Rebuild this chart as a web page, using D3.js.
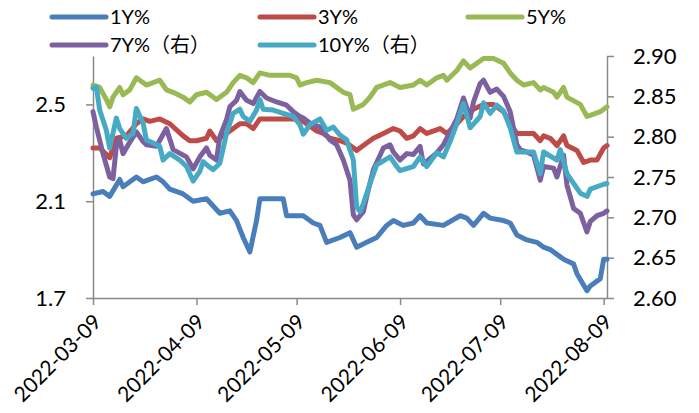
<!DOCTYPE html>
<html>
<head>
<meta charset="utf-8">
<script src="https://cdn.jsdelivr.net/npm/d3@7"></script>
<style>
  body { margin: 0; background: #fff; }
  svg text { font-family: Lato, "Noto Sans CJK SC", sans-serif; fill: #000; }
</style>
</head>
<body>
<div id="chart"></div>
<script>
const W = 699;
const H = 413;
const plot = { left: 93, right: 607, top: 56, bottom: 298 };

// Axis setup
const dateRange = ["2022-03-09", "2022-08-10"];
const xTicks = ["2022-03-09", "2022-04-09", "2022-05-09", "2022-06-09", "2022-07-09", "2022-08-09"];
const leftDomain = [1.7, 2.7];
const leftTicks = [1.7, 2.1, 2.5];
const rightDomain = [2.6, 2.9];
const rightTicks = [2.60, 2.65, 2.70, 2.75, 2.80, 2.85, 2.90];

const seriesNames = ["1Y%", "3Y%", "5Y%", "7Y%（右）", "10Y%（右）"];
const seriesColors = ["#4A7EBB", "#BE4B48", "#98B954", "#7D60A0", "#46AAC5"];

// Values (left axis)
const y1 = [
  ["2022-03-09", 2.13], ["2022-03-12", 2.14], ["2022-03-14", 2.12], ["2022-03-17", 2.19],
  ["2022-03-18", 2.16], ["2022-03-22", 2.20], ["2022-03-24", 2.18], ["2022-03-26", 2.19],
  ["2022-03-28", 2.20], ["2022-03-30", 2.18], ["2022-04-01", 2.15], ["2022-04-05", 2.13],
  ["2022-04-08", 2.10], ["2022-04-12", 2.11], ["2022-04-14", 2.08], ["2022-04-16", 2.05],
  ["2022-04-19", 2.06], ["2022-04-21", 2.02], ["2022-04-23", 1.95], ["2022-04-25", 1.89],
  ["2022-04-27", 2.02], ["2022-04-28", 2.11], ["2022-05-01", 2.11], ["2022-05-05", 2.11],
  ["2022-05-06", 2.04], ["2022-05-10", 2.04], ["2022-05-11", 2.04], ["2022-05-14", 2.01],
  ["2022-05-16", 2.00], ["2022-05-18", 1.93], ["2022-05-22", 1.95], ["2022-05-25", 1.97],
  ["2022-05-27", 1.91], ["2022-05-30", 1.93], ["2022-06-02", 1.95], ["2022-06-05", 2.00],
  ["2022-06-07", 2.02], ["2022-06-10", 2.00], ["2022-06-13", 2.01], ["2022-06-15", 2.04],
  ["2022-06-17", 2.01], ["2022-06-22", 2.00], ["2022-06-27", 2.04], ["2022-06-29", 2.03],
  ["2022-07-01", 2.00], ["2022-07-04", 2.05], ["2022-07-06", 2.03], ["2022-07-10", 2.02],
  ["2022-07-12", 2.01], ["2022-07-14", 1.96], ["2022-07-17", 1.94], ["2022-07-20", 1.93],
  ["2022-07-22", 1.91], ["2022-07-24", 1.90], ["2022-07-27", 1.87], ["2022-07-28", 1.86],
  ["2022-07-31", 1.84], ["2022-08-01", 1.80], ["2022-08-04", 1.73], ["2022-08-05", 1.75],
  ["2022-08-08", 1.78], ["2022-08-09", 1.86], ["2022-08-10", 1.86]
];

const y3 = [
  ["2022-03-09", 2.32], ["2022-03-11", 2.32], ["2022-03-14", 2.28], ["2022-03-16", 2.36],
  ["2022-03-19", 2.37], ["2022-03-22", 2.42], ["2022-03-24", 2.44], ["2022-03-26", 2.43],
  ["2022-03-29", 2.44], ["2022-04-01", 2.42], ["2022-04-05", 2.37], ["2022-04-07", 2.35],
  ["2022-04-09", 2.35], ["2022-04-12", 2.36], ["2022-04-13", 2.39], ["2022-04-15", 2.35],
  ["2022-04-17", 2.37], ["2022-04-19", 2.39], ["2022-04-22", 2.42], ["2022-04-24", 2.42],
  ["2022-04-26", 2.40], ["2022-04-28", 2.44], ["2022-05-02", 2.44], ["2022-05-08", 2.44],
  ["2022-05-10", 2.44], ["2022-05-15", 2.39], ["2022-05-17", 2.38], ["2022-05-19", 2.36],
  ["2022-05-22", 2.35], ["2022-05-24", 2.34], ["2022-05-27", 2.31], ["2022-05-29", 2.33],
  ["2022-06-01", 2.36], ["2022-06-04", 2.38], ["2022-06-07", 2.40], ["2022-06-09", 2.39],
  ["2022-06-11", 2.36], ["2022-06-13", 2.37], ["2022-06-15", 2.40], ["2022-06-17", 2.38],
  ["2022-06-21", 2.40], ["2022-06-23", 2.38], ["2022-06-26", 2.42], ["2022-06-28", 2.45],
  ["2022-07-01", 2.48], ["2022-07-04", 2.50], ["2022-07-07", 2.50], ["2022-07-10", 2.47],
  ["2022-07-13", 2.40], ["2022-07-14", 2.38], ["2022-07-19", 2.38], ["2022-07-21", 2.35],
  ["2022-07-22", 2.37], ["2022-07-24", 2.36], ["2022-07-26", 2.33], ["2022-07-28", 2.37],
  ["2022-07-29", 2.33], ["2022-08-01", 2.31], ["2022-08-03", 2.26], ["2022-08-05", 2.27],
  ["2022-08-07", 2.27], ["2022-08-09", 2.32], ["2022-08-10", 2.33]
];

const y5 = [
  ["2022-03-09", 2.58], ["2022-03-11", 2.57], ["2022-03-13", 2.52], ["2022-03-14", 2.49],
  ["2022-03-15", 2.53], ["2022-03-17", 2.57], ["2022-03-18", 2.54], ["2022-03-20", 2.56],
  ["2022-03-22", 2.61], ["2022-03-25", 2.58], ["2022-03-27", 2.59], ["2022-03-29", 2.60],
  ["2022-03-30", 2.58], ["2022-03-31", 2.56], ["2022-04-02", 2.55], ["2022-04-05", 2.53],
  ["2022-04-07", 2.51], ["2022-04-09", 2.54], ["2022-04-12", 2.55], ["2022-04-15", 2.52],
  ["2022-04-18", 2.55], ["2022-04-20", 2.59], ["2022-04-22", 2.62], ["2022-04-24", 2.61],
  ["2022-04-26", 2.59], ["2022-04-28", 2.63], ["2022-05-01", 2.62], ["2022-05-05", 2.62],
  ["2022-05-07", 2.62], ["2022-05-09", 2.61], ["2022-05-10", 2.58], ["2022-05-12", 2.59],
  ["2022-05-15", 2.60], ["2022-05-19", 2.59], ["2022-05-23", 2.55], ["2022-05-25", 2.54],
  ["2022-05-26", 2.48], ["2022-05-29", 2.50], ["2022-05-31", 2.53], ["2022-06-02", 2.57],
  ["2022-06-06", 2.59], ["2022-06-09", 2.57], ["2022-06-13", 2.58], ["2022-06-15", 2.60],
  ["2022-06-17", 2.58], ["2022-06-20", 2.61], ["2022-06-22", 2.62], ["2022-06-23", 2.60],
  ["2022-06-26", 2.64], ["2022-06-28", 2.68], ["2022-06-30", 2.65], ["2022-07-04", 2.69],
  ["2022-07-07", 2.69], ["2022-07-10", 2.67], ["2022-07-12", 2.63], ["2022-07-14", 2.60],
  ["2022-07-16", 2.58], ["2022-07-19", 2.59], ["2022-07-21", 2.56], ["2022-07-22", 2.57],
  ["2022-07-25", 2.55], ["2022-07-26", 2.53], ["2022-07-28", 2.57], ["2022-07-29", 2.53],
  ["2022-08-02", 2.50], ["2022-08-04", 2.45], ["2022-08-06", 2.46], ["2022-08-08", 2.47],
  ["2022-08-10", 2.49]
];

// Values (right axis)
const y7 = [
  ["2022-03-09", 2.831], ["2022-03-10", 2.812], ["2022-03-12", 2.779], ["2022-03-14", 2.750],
  ["2022-03-15", 2.748], ["2022-03-16", 2.788], ["2022-03-17", 2.796], ["2022-03-18", 2.779],
  ["2022-03-20", 2.793], ["2022-03-22", 2.806], ["2022-03-24", 2.794], ["2022-03-25", 2.790],
  ["2022-03-28", 2.788], ["2022-03-31", 2.810], ["2022-04-02", 2.784], ["2022-04-06", 2.775],
  ["2022-04-08", 2.760], ["2022-04-10", 2.775], ["2022-04-12", 2.786], ["2022-04-13", 2.777],
  ["2022-04-15", 2.771], ["2022-04-16", 2.800], ["2022-04-18", 2.821], ["2022-04-19", 2.837],
  ["2022-04-21", 2.845], ["2022-04-22", 2.856], ["2022-04-24", 2.845], ["2022-04-26", 2.841],
  ["2022-04-28", 2.856], ["2022-04-30", 2.848], ["2022-05-03", 2.843], ["2022-05-06", 2.839],
  ["2022-05-08", 2.831], ["2022-05-10", 2.825], ["2022-05-11", 2.823], ["2022-05-13", 2.817],
  ["2022-05-16", 2.812], ["2022-05-19", 2.796], ["2022-05-21", 2.790], ["2022-05-23", 2.771],
  ["2022-05-25", 2.746], ["2022-05-26", 2.703], ["2022-05-27", 2.697], ["2022-05-29", 2.707],
  ["2022-05-30", 2.726], ["2022-06-01", 2.759], ["2022-06-04", 2.786], ["2022-06-06", 2.790],
  ["2022-06-07", 2.781], ["2022-06-09", 2.771], ["2022-06-11", 2.779], ["2022-06-13", 2.778],
  ["2022-06-15", 2.788], ["2022-06-16", 2.766], ["2022-06-20", 2.780], ["2022-06-22", 2.790],
  ["2022-06-24", 2.806], ["2022-06-26", 2.822], ["2022-06-28", 2.848], ["2022-06-30", 2.823],
  ["2022-07-01", 2.843], ["2022-07-03", 2.866], ["2022-07-04", 2.870], ["2022-07-06", 2.855],
  ["2022-07-08", 2.859], ["2022-07-10", 2.850], ["2022-07-12", 2.831], ["2022-07-14", 2.790],
  ["2022-07-15", 2.784], ["2022-07-17", 2.781], ["2022-07-19", 2.777], ["2022-07-21", 2.746],
  ["2022-07-22", 2.763], ["2022-07-25", 2.761], ["2022-07-26", 2.750], ["2022-07-28", 2.777],
  ["2022-07-29", 2.740], ["2022-07-31", 2.711], ["2022-08-02", 2.705], ["2022-08-04", 2.682],
  ["2022-08-05", 2.695], ["2022-08-07", 2.702], ["2022-08-09", 2.705], ["2022-08-10", 2.708]
];

const y10 = [
  ["2022-03-09", 2.860], ["2022-03-10", 2.862], ["2022-03-11", 2.833], ["2022-03-13", 2.808],
  ["2022-03-14", 2.786], ["2022-03-16", 2.823], ["2022-03-17", 2.810], ["2022-03-19", 2.798],
  ["2022-03-21", 2.804], ["2022-03-22", 2.835], ["2022-03-24", 2.817], ["2022-03-25", 2.796],
  ["2022-03-27", 2.792], ["2022-03-29", 2.788], ["2022-03-30", 2.771], ["2022-04-01", 2.779],
  ["2022-04-04", 2.771], ["2022-04-06", 2.763], ["2022-04-08", 2.745], ["2022-04-10", 2.757],
  ["2022-04-11", 2.769], ["2022-04-13", 2.762], ["2022-04-14", 2.759], ["2022-04-16", 2.767],
  ["2022-04-18", 2.804], ["2022-04-20", 2.829], ["2022-04-22", 2.834], ["2022-04-23", 2.825],
  ["2022-04-25", 2.819], ["2022-04-27", 2.833], ["2022-04-28", 2.846], ["2022-04-29", 2.834],
  ["2022-05-02", 2.833], ["2022-05-05", 2.829], ["2022-05-08", 2.825], ["2022-05-10", 2.815],
  ["2022-05-11", 2.803], ["2022-05-13", 2.815], ["2022-05-16", 2.822], ["2022-05-18", 2.808],
  ["2022-05-20", 2.812], ["2022-05-22", 2.802], ["2022-05-24", 2.796], ["2022-05-26", 2.771],
  ["2022-05-27", 2.713], ["2022-05-28", 2.707], ["2022-05-29", 2.717], ["2022-05-31", 2.742],
  ["2022-06-02", 2.765], ["2022-06-06", 2.775], ["2022-06-08", 2.763], ["2022-06-09", 2.758],
  ["2022-06-13", 2.763], ["2022-06-15", 2.775], ["2022-06-17", 2.763], ["2022-06-20", 2.780],
  ["2022-06-22", 2.775], ["2022-06-24", 2.794], ["2022-06-26", 2.816], ["2022-06-28", 2.841],
  ["2022-06-30", 2.811], ["2022-07-03", 2.825], ["2022-07-04", 2.842], ["2022-07-06", 2.829],
  ["2022-07-08", 2.839], ["2022-07-10", 2.832], ["2022-07-12", 2.811], ["2022-07-14", 2.781],
  ["2022-07-19", 2.781], ["2022-07-21", 2.754], ["2022-07-22", 2.781], ["2022-07-26", 2.771],
  ["2022-07-27", 2.784], ["2022-07-29", 2.754], ["2022-08-02", 2.730], ["2022-08-04", 2.726],
  ["2022-08-05", 2.735], ["2022-08-09", 2.741], ["2022-08-10", 2.742]
];

const seriesData = [y1, y3, y5, y7, y10];
const seriesAxis = ["left", "left", "left", "right", "right"];

const parseDate = d3.timeParse("%Y-%m-%d");
const formatDate = d3.timeFormat("%Y-%m-%d");

const svg = d3.select("#chart")
  .append("svg")
  .attr("width", W)
  .attr("height", H)
  .style("background", "#fff");

// Scales
const x = d3.scaleTime()
  .domain(dateRange.map(parseDate))
  .range([plot.left, plot.right]);

const yLeft = d3.scaleLinear().domain(leftDomain).range([plot.bottom, plot.top]);
const yRight = d3.scaleLinear().domain(rightDomain).range([plot.bottom, plot.top]);

const axisColor = "#898989";

function styleAxis(g, fontSize) {
  g.select(".domain").attr("stroke", axisColor).attr("stroke-width", 1.5);
  g.selectAll(".tick line").attr("stroke", axisColor).attr("stroke-width", 1.5);
  g.selectAll(".tick text")
    .style("font-size", fontSize + "px")
    .attr("fill", "#000");
}

// Left axis
svg.append("g")
  .attr("transform", `translate(${plot.left},0)`)
  .call(d3.axisLeft(yLeft)
    .tickValues(leftTicks)
    .tickFormat(d3.format(".1f"))
    .tickSize(7)
    .tickSizeOuter(0)
    .tickPadding(20))
  .call(g => styleAxis(g, 22));

// Right axis
svg.append("g")
  .attr("transform", `translate(${plot.right},0)`)
  .call(d3.axisRight(yRight)
    .tickValues(rightTicks)
    .tickFormat(d3.format(".2f"))
    .tickSize(7)
    .tickSizeOuter(0)
    .tickPadding(19))
  .call(g => styleAxis(g, 22));

// Bottom axis
const xAxisG = svg.append("g")
  .attr("transform", `translate(0,${plot.bottom})`)
  .call(d3.axisBottom(x)
    .tickValues(xTicks.map(parseDate))
    .tickFormat(formatDate)
    .tickSize(7)
    .tickSizeOuter(0))
  .call(g => styleAxis(g, 21));

xAxisG.selectAll(".tick text")
  .attr("text-anchor", "end")
  .attr("x", 0)
  .attr("y", 0)
  .attr("dy", "0.35em")
  .attr("transform", "translate(4,20) rotate(-45)");

// Lines
seriesData.forEach((rows, i) => {
  const yScale = seriesAxis[i] === "left" ? yLeft : yRight;
  const line = d3.line()
    .x(d => x(parseDate(d[0])))
    .y(d => yScale(d[1]));
  svg.append("path")
    .datum(rows)
    .attr("d", line)
    .attr("fill", "none")
    .attr("stroke", seriesColors[i])
    .attr("stroke-width", 5)
    .attr("stroke-linejoin", "round")
    .attr("stroke-linecap", "round");
});

// Legend
const legend = svg.append("g");
seriesNames.forEach((name, i) => {
  const col = i % 3;
  const row = Math.floor(i / 3);
  const lx = 52 + col * 208;
  const ly = 17 + row * 28;
  legend.append("line")
    .attr("x1", lx).attr("x2", lx + 54)
    .attr("y1", ly).attr("y2", ly)
    .attr("stroke", seriesColors[i])
    .attr("stroke-width", 5)
    .attr("stroke-linecap", "round");
  legend.append("text")
    .attr("x", lx + 58)
    .attr("y", ly)
    .attr("dy", "0.36em")
    .style("font-size", "20px")
    .text(name);
});
</script>
</body>
</html>
